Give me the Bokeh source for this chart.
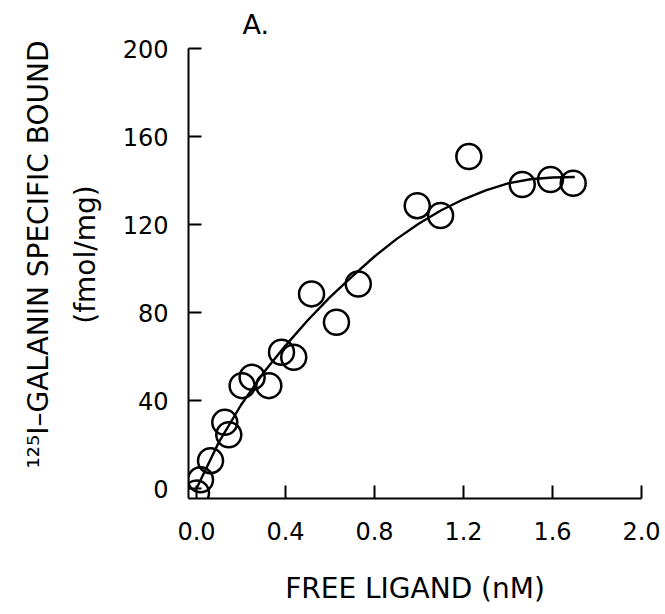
import math
from bokeh.plotting import figure
from bokeh.models import FixedTicker, Range1d, ColumnDataSource, Title, Label
from bokeh.embed import file_html
from bokeh.resources import INLINE

# ---- data ----
free_ligand = [0.0, 0.018, 0.063, 0.127, 0.145, 0.205, 0.250, 0.325, 0.382, 0.437,
               0.517, 0.629, 0.727, 0.992, 1.097, 1.224, 1.464, 1.591, 1.693]
specific_bound = [-2.0, 4.0, 12.7, 30.1, 24.5, 46.8, 50.6, 46.8, 62.0, 59.7,
                  88.5, 75.6, 93.0, 128.6, 124.1, 150.9, 138.2, 140.5, 138.8]

# fitted curve, sampled along the drawn line
curve_x = [0.0, 0.1, 0.2, 0.3, 0.4, 0.5, 0.6, 0.7, 0.8, 0.9,
           1.0, 1.1, 1.2, 1.3, 1.4, 1.5, 1.6, 1.7]
curve_y = [0.0, 21.0, 38.0, 52.5, 65.0, 76.5, 87.0, 96.5, 105.5, 113.5,
           120.5, 126.5, 131.5, 135.5, 138.7, 140.6, 141.4, 141.6]

x_ticks = [0.0, 0.4, 0.8, 1.2, 1.6, 2.0]
x_tick_labels = ["0.0", "0.4", "0.8", "1.2", "1.6", "2.0"]
y_ticks = [0, 40, 80, 120, 160, 200]
y_tick_labels = ["0", "40", "80", "120", "160", "200"]

panel_title = "A."
x_title = "FREE LIGAND (nM)"
y_title_main = "\u00b9\u00b2\u2075I\u2013GALANIN SPECIFIC BOUND"
y_title_unit = "(fmol/mg)"

FONT = "DejaVu Sans"
STYLE = "normal"

Y_AXIS_TOP = 200
p = figure(width=665, height=614, output_backend="svg", toolbar_location=None,
           x_range=Range1d(-0.036, 2.0), y_range=Range1d(-4.5, 217.3),
           min_border_left=188, min_border_right=24, min_border_top=10,
           min_border_bottom=116)
p.title.visible = False
p.background_fill_color = "white"
p.border_fill_color = "white"
p.outline_line_color = None
p.xgrid.grid_line_color = None
p.ygrid.grid_line_color = None

for ax in (p.xaxis[0], p.yaxis[0]):
    ax.axis_line_width = 2
    ax.axis_line_color = "black"
    ax.major_tick_line_width = 2
    ax.major_tick_line_color = "black"
    ax.major_tick_in = 13
    ax.major_tick_out = 0
    ax.minor_tick_line_color = None
    ax.major_label_text_font = FONT
    ax.major_label_text_font_size = "24px"
    ax.major_label_text_font_style = STYLE
    ax.major_label_text_color = "black"
    ax.axis_label_text_font = FONT
    ax.axis_label_text_font_size = "28px"
    ax.axis_label_text_font_style = STYLE
    ax.axis_label_text_color = "black"

p.xaxis.ticker = FixedTicker(ticks=x_ticks)
p.xaxis.major_label_overrides = {t: s for t, s in zip(x_ticks, x_tick_labels)}
p.xaxis.major_label_standoff = 23
p.xaxis.axis_label = x_title
p.xaxis.axis_label_standoff = 29

p.yaxis.ticker = FixedTicker(ticks=y_ticks)
p.yaxis.major_label_overrides = {t: s for t, s in zip(y_ticks, y_tick_labels)}
p.yaxis.major_label_standoff = 20
p.yaxis.axis_label = y_title_unit
p.yaxis.axis_label_standoff = 18
p.yaxis.bounds = (-4.5, Y_AXIS_TOP)

p.add_layout(Title(text=y_title_main, align="center", text_font=FONT,
                   text_font_size="28px", text_font_style=STYLE,
                   text_color="black", standoff=22), "left")

p.add_layout(Label(x=0.207, y=211.0, text=panel_title, text_font=FONT,
                   text_font_size="27px", text_font_style=STYLE,
                   text_color="black", text_align="left",
                   text_baseline="alphabetic"))

p.line(curve_x, curve_y, line_color="black", line_width=2.4)
src = ColumnDataSource(dict(x=free_ligand, y=specific_bound))
p.scatter("x", "y", source=src, marker="circle", size=25, fill_color=None,
          line_color="black", line_width=2.5)

open("out.html", "w").write(file_html(p, INLINE))
